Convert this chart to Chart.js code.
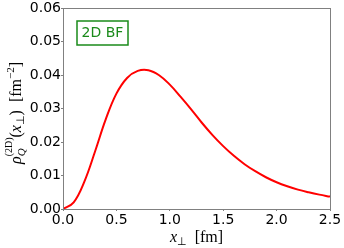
<!DOCTYPE html>
<html>
<head>
<meta charset="utf-8">
<script src="https://cdn.jsdelivr.net/npm/chart.js@4"></script>
<style>
html,body{margin:0;padding:0;background:#fff;}
</style>
</head>
<body>
<canvas id="densChart" width="344" height="248"></canvas>
<script>
// x_perp [fm] and rho_Q^(2D) [fm^-2]
const xPerp = [0.0,0.1,0.2,0.3,0.4,0.5,0.6,0.7,0.8,0.9,1.0,1.1,1.2,1.3,1.4,1.5,1.6,1.7,1.8,1.9,2.0,2.1,2.2,2.3,2.4,2.5];
const rhoQ = [0.0,0.0020,0.0082,0.0172,0.0268,0.0345,0.0392,0.0413,0.0415,0.0400,0.0372,0.0336,0.0298,0.0258,0.0221,0.0188,0.0159,0.0134,0.0113,0.0095,0.0080,0.0068,0.0058,0.0050,0.0043,0.0037];
const xTicks = [0.0,0.5,1.0,1.5,2.0,2.5];
const yTicks = [0.00,0.01,0.02,0.03,0.04,0.05,0.06];
const boxLabel = "2D BF";

const serif = '"Liberation Serif", "DejaVu Serif", serif';

// draw a row of text pieces (sub/superscripts) centered on 0
function drawRuns(ctx, runs) {
  let w = 0;
  runs.forEach(r => {
    ctx.font = r.font;
    r.w = ctx.measureText(r.t).width;
    if (r.sup) { ctx.font = r.supFont; r.w = Math.max(r.w, ctx.measureText(r.sup).width); }
    w += r.w;
  });
  let x = -w / 2;
  runs.forEach(r => {
    ctx.font = r.font;
    ctx.fillText(r.t, x, r.dy || 0);
    if (r.sup) { ctx.font = r.supFont; ctx.fillText(r.sup, x, r.supDy); }
    x += r.w;
  });
}

const extras = {
  id: 'extras',
  afterDraw(chart) {
    const ctx = chart.ctx;
    const a = chart.chartArea;
    ctx.save();
    // frame
    ctx.strokeStyle = '#808080';
    ctx.lineWidth = 1;
    ctx.strokeRect(Math.round(a.left) + 0.5, Math.round(a.top) + 0.5, Math.round(a.right - a.left), Math.round(a.bottom - a.top));

    // label box
    ctx.strokeStyle = '#1a8a1a';
    ctx.lineWidth = 1.5;
    ctx.fillStyle = '#fff';
    ctx.fillRect(77, 21, 51, 24);
    ctx.strokeRect(77, 21, 51, 24);
    ctx.fillStyle = '#1a8a1a';
    ctx.font = '14px "DejaVu Sans"';
    ctx.textAlign = 'center';
    ctx.textBaseline = 'middle';
    ctx.fillText(boxLabel, 102.5, 33.5);

    ctx.fillStyle = '#000';
    ctx.textAlign = 'left';
    ctx.textBaseline = 'alphabetic';
    // x title
    ctx.save();
    ctx.translate((a.left + a.right) / 2, 242);
    drawRuns(ctx, [
      {t: 'x', font: 'italic 16px ' + serif},
      {t: '\u22a5', font: '11px "DejaVu Sans"', dy: 3},
      {t: '  [fm]', font: '16px ' + serif}
    ]);
    ctx.restore();
    // y title
    ctx.save();
    ctx.translate(21, 113);
    ctx.rotate(-Math.PI / 2);
    drawRuns(ctx, [
      {t: '\u03c1', font: 'italic 16px ' + serif},
      {t: 'Q', font: 'italic 11px ' + serif, dy: 4, sup: '(2D)', supFont: '10px ' + serif, supDy: -9},
      {t: '(', font: '16px ' + serif},
      {t: 'x', font: 'italic 16px ' + serif},
      {t: '\u22a5', font: '11px "DejaVu Sans"', dy: 3},
      {t: ')  [fm', font: '16px ' + serif},
      {t: '\u22122', font: '11px ' + serif, dy: -7},
      {t: ']', font: '16px ' + serif}
    ]);
    ctx.restore();
    ctx.restore();
  }
};

new Chart(document.getElementById('densChart'), {
  type: 'line',
  data: {
    datasets: [{
      data: xPerp.map((x, i) => ({x: x, y: rhoQ[i]})),
      borderColor: '#ff0000',
      borderWidth: 2,
      pointRadius: 0,
      fill: false,
      tension: 0.4
    }]
  },
  options: {
    responsive: false,
    animation: false,
    layout: {padding: {left: 0, right: 14, top: 8, bottom: 0}},
    plugins: {legend: {display: false}, tooltip: {enabled: false}},
    scales: {
      x: {
        type: 'linear',
        min: 0, max: 2.5,
        afterFit: s => { s.height = 39; },
        afterBuildTicks: s => { s.ticks = xTicks.map(v => ({value: v})); },
        grid: {drawOnChartArea: false, tickLength: 2, color: '#808080'},
        border: {color: '#808080'},
        ticks: {
          color: '#000', padding: 1, maxRotation: 0,
          font: {family: 'DejaVu Sans', size: 14},
          callback: v => v.toFixed(1)
        }
      },
      y: {
        min: 0, max: 0.06,
        afterFit: s => { s.width = 63; },
        afterBuildTicks: s => { s.ticks = yTicks.map(v => ({value: v})); },
        grid: {drawOnChartArea: false, tickLength: 2, color: '#808080'},
        border: {color: '#808080'},
        ticks: {
          color: '#000', padding: 0,
          font: {family: 'DejaVu Sans', size: 14},
          callback: v => v.toFixed(2)
        }
      }
    }
  },
  plugins: [extras]
});
</script>
</body>
</html>
